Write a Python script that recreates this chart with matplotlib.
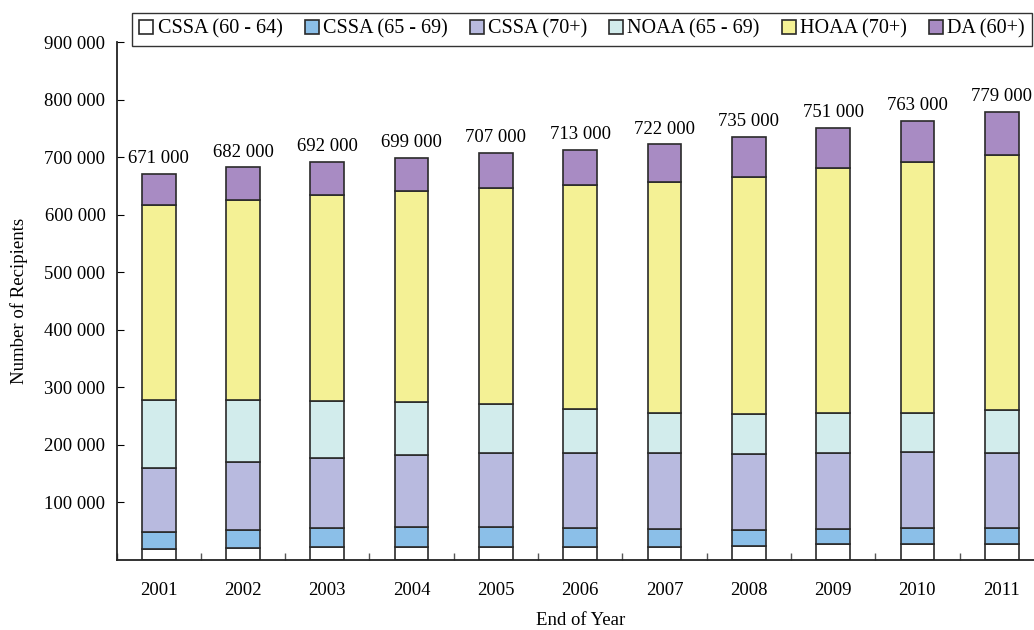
import numpy as np
import matplotlib.pyplot as plt
from matplotlib.ticker import FuncFormatter, MultipleLocator

plt.rcParams['font.family'] = ['Liberation Serif', 'DejaVu Serif']

# Dados (em milhares de beneficiarios)
anos = ['2001', '2002', '2003', '2004', '2005', '2006', '2007', '2008', '2009', '2010', '2011']
cssa_60_64 = [19, 21, 22, 23, 23, 23, 23, 25, 27, 27, 28]
cssa_65_69 = [30, 32, 34, 34, 34, 33, 31, 27, 27, 28, 27]
cssa_70 = [110, 117, 122, 126, 129, 130, 132, 132, 132, 132, 131]
noaa_65_69 = [119, 108, 99, 91, 85, 76, 70, 69, 70, 69, 74]
hoaa_70 = [338, 347, 357, 367, 376, 389, 400, 413, 425, 436, 444]
da_60 = [55, 57, 58, 58, 60, 62, 66, 69, 70, 71, 75]
totais = [671, 682, 692, 699, 707, 713, 722, 735, 751, 763, 779]

series = [
    ("CSSA (60 - 64)", cssa_60_64, '#ffffff'),
    ("CSSA (65 - 69)", cssa_65_69, '#8bbfe8'),
    ("CSSA (70+)", cssa_70, '#b8badf'),
    ("NOAA (65 - 69)", noaa_65_69, '#d2ecec'),
    ("HOAA (70+)", hoaa_70, '#f4f195'),
    ("DA (60+)", da_60, '#a88bc3'),
]

fig = plt.figure(figsize=(10.34, 6.30), dpi=100)
ax = fig.add_axes([0.1127, 0.1111, 0.8968, 0.8222])

x = np.arange(len(anos))
base = np.zeros(len(anos))
for nome, vals, cor in series:
    v = np.array(vals) * 1000.0
    ax.bar(x, v, 0.4, bottom=base, color=cor, edgecolor='#2a2a2a',
           linewidth=1.2, label=nome)
    base += v

for xi, t in zip(x, totais):
    ax.text(xi, t * 1000 + 12000, f"{t} 000", ha='center', va='bottom', fontsize=13.5)

ax.set_xlim(-0.5, len(anos) - 0.5)
ax.set_ylim(0, 900000)
ax.set_yticks(np.arange(100000, 900001, 100000))
ax.yaxis.set_major_formatter(FuncFormatter(lambda v, p: f"{v:,.0f}".replace(",", " ")))
ax.set_xticks(x)
ax.set_xticklabels(anos)
ax.xaxis.set_minor_locator(MultipleLocator(1, offset=0.5))
ax.tick_params(axis='x', which='major', length=0, labelsize=13.5, pad=16)
ax.tick_params(axis='x', which='minor', direction='in', length=5, width=1, color='#555555')
ax.tick_params(axis='y', direction='in', length=5, labelsize=13.5, pad=8)

for lado in ['top', 'right']:
    ax.spines[lado].set_visible(False)
for lado in ['left', 'bottom']:
    ax.spines[lado].set_linewidth(1.3)
    ax.spines[lado].set_color('#222222')

ax.set_ylabel("Number of Recipients", fontsize=13.5, labelpad=12)
ax.set_xlabel("End of Year", fontsize=13.5, labelpad=9)

leg = fig.legend(loc='upper left', bbox_to_anchor=(0.128, 0.98), ncol=6, fontsize=14.5,
                 frameon=True, fancybox=False, edgecolor='black', handlelength=0.7,
                 handleheight=0.7, handletextpad=0.2, columnspacing=1.1,
                 borderpad=0.35, borderaxespad=0.0)
leg.get_frame().set_linewidth(1.0)

fig.savefig("out.png", dpi=100)
